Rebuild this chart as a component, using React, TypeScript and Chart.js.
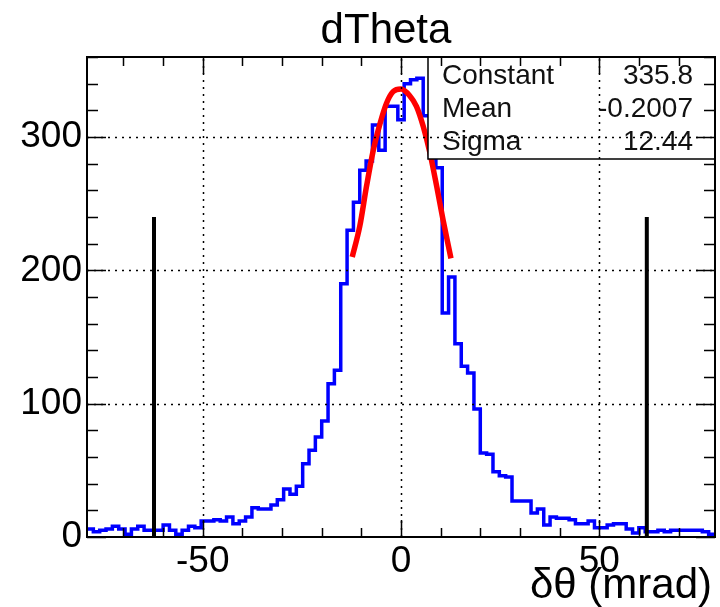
import React, { useEffect, useRef } from "react";
import { Chart, registerables } from "chart.js";

Chart.register(...registerables);

const FONT = "'Liberation Sans', Arial, Helvetica, sans-serif";

const TITLE = "dTheta";
const X_TITLE = "δθ (mrad)";

const X_MIN = -79.2;
const X_MAX = 79.2;
const Y_MIN = 0;
const Y_MAX = 360;

const BIN_LOW = -79.2;
const BIN_WIDTH = 1.6;
const COUNTS = [
  6, 4, 5, 6, 8, 6, 2, 6, 8, 5,
  5, 5, 9, 5, 2, 5, 8, 7, 12, 12,
  13, 12, 15, 10, 12, 15, 22, 21, 21, 24,
  28, 36, 32, 38, 55, 65, 75, 87, 115, 125,
  190, 230, 251, 275, 282, 309, 290, 323, 323, 313,
  340, 343, 344, 316, 285, 277, 168, 195, 145, 128,
  123, 96, 63, 62, 49, 46, 45, 27, 27, 27,
  18, 21, 9, 15, 14, 14, 13, 10, 10, 12,
  7, 7, 9, 10, 10, 6, 3, 7, 4, 4,
  5, 4, 5, 5, 5, 5, 5, 4, 2,
];

const FIT_X = [-12.3, -10.4, -8.7, -7.0, -5.3, -3.7, -2.0, 0.0, 2.2, 3.9, 5.6, 7.3, 9.0, 10.6, 12.6];
const FIT_Y = [210, 233, 263, 290, 310, 325, 334, 336, 331, 323, 308, 288, 263, 238, 209];

const CUT_X = [-62.3, 62.0];
const CUT_TOP = 240;

const X_TICKS = [-50, 0, 50];
const Y_TICKS = [0, 100, 200, 300];
const X_MINOR_STEP = 10;
const Y_MINOR_STEP = 20;

const STAT_NAMES = ["Constant", "Mean", "Sigma"];
const STAT_VALUES = ["335.8", "-0.2007", "12.44"];

const rootPlugin = {
  id: "rootStyle",
  afterDatasetsDraw(chart: any) {
    const { ctx, chartArea: a, scales } = chart;
    const xs = scales.x;
    const ys = scales.y;
    ctx.save();

    // stats box (opaque)
    const bx = 428;
    const by = a.top;
    const bw = a.right - bx;
    const bh = 102;
    ctx.fillStyle = "#ffffff";
    ctx.fillRect(bx, by, bw, bh);
    ctx.strokeStyle = "#000";
    ctx.lineWidth = 1.5;
    ctx.strokeRect(bx, by, bw, bh);
    ctx.fillStyle = "#111";
    ctx.font = `28px ${FONT}`;
    ctx.textBaseline = "middle";
    STAT_NAMES.forEach((n, i) => {
      const yy = by + 19 + i * 33;
      ctx.textAlign = "left";
      ctx.fillText(n, bx + 14, yy);
      ctx.textAlign = "right";
      ctx.fillText(STAT_VALUES[i], a.right - 22, yy);
    });

    // dotted grid
    ctx.strokeStyle = "#000";
    ctx.lineWidth = 1.5;
    ctx.setLineDash([2, 5]);
    X_TICKS.forEach((v) => {
      const px = Math.round(xs.getPixelForValue(v)) + 0.5;
      ctx.beginPath();
      ctx.moveTo(px, a.bottom);
      ctx.lineTo(px, a.top);
      ctx.stroke();
    });
    Y_TICKS.forEach((v) => {
      if (v === Y_MIN) return;
      const py = Math.round(ys.getPixelForValue(v)) + 0.5;
      ctx.beginPath();
      ctx.moveTo(a.left, py);
      ctx.lineTo(a.right, py);
      ctx.stroke();
    });
    ctx.setLineDash([]);

    // tick marks (inward, all four sides)
    ctx.lineWidth = 1.5;
    for (let v = Math.ceil(X_MIN / X_MINOR_STEP) * X_MINOR_STEP; v <= X_MAX; v += X_MINOR_STEP) {
      const major = X_TICKS.includes(v);
      const len = major ? 17 : 9;
      const px = Math.round(xs.getPixelForValue(v)) + 0.5;
      ctx.beginPath();
      ctx.moveTo(px, a.bottom);
      ctx.lineTo(px, a.bottom - len);
      ctx.moveTo(px, a.top);
      ctx.lineTo(px, a.top + len);
      ctx.stroke();
    }
    for (let v = Y_MIN; v <= Y_MAX; v += Y_MINOR_STEP) {
      const major = Y_TICKS.includes(v);
      const len = major ? 19 : 11;
      const py = Math.round(ys.getPixelForValue(v)) + 0.5;
      ctx.beginPath();
      ctx.moveTo(a.left, py);
      ctx.lineTo(a.left + len, py);
      ctx.moveTo(a.right, py);
      ctx.lineTo(a.right - len, py);
      ctx.stroke();
    }

    // frame
    ctx.lineWidth = 2;
    ctx.strokeRect(a.left, a.top, a.right - a.left, a.bottom - a.top);

    // title
    ctx.fillStyle = "#000";
    ctx.font = `42px ${FONT}`;
    ctx.textAlign = "center";
    ctx.textBaseline = "alphabetic";
    ctx.fillText(TITLE, 386, 43);

    // x title
    ctx.font = `42px ${FONT}`;
    ctx.textAlign = "right";
    ctx.fillText(X_TITLE, a.right - 3, 598);

    ctx.restore();
  },
};

export default function App() {
  const ref = useRef<HTMLCanvasElement | null>(null);

  useEffect(() => {
    document.body.style.margin = "0";
    const canvas = ref.current;
    if (!canvas) return;

    // one point per bin lower edge, plus the upper edge of the last bin
    const histPoints = COUNTS.map((c, i) => ({ x: BIN_LOW + i * BIN_WIDTH, y: c }));
    histPoints.push({ x: BIN_LOW + COUNTS.length * BIN_WIDTH, y: COUNTS[COUNTS.length - 1] });

    const fitPoints = FIT_X.map((x, i) => ({ x, y: FIT_Y[i] }));

    const cutSets = CUT_X.map((cx) => ({
      data: [
        { x: cx, y: 0 },
        { x: cx, y: CUT_TOP },
      ],
      borderColor: "#000000",
      borderWidth: 4,
      pointRadius: 0,
      fill: false,
    }));

    const chart = new Chart(canvas, {
      type: "line",
      data: {
        datasets: [
          {
            data: fitPoints,
            borderColor: "#ff0000",
            borderWidth: 5.5,
            pointRadius: 0,
            fill: false,
            cubicInterpolationMode: "monotone",
          } as any,
          ...cutSets,
          {
            data: histPoints,
            borderColor: "#0000ff",
            borderWidth: 3.5,
            pointRadius: 0,
            fill: false,
            stepped: "before",
          } as any,
        ],
      },
      options: {
        animation: false,
        responsive: false,
        maintainAspectRatio: false,
        devicePixelRatio: 1,
        layout: { padding: { top: 57, right: 5, left: 0, bottom: 0 } },
        plugins: {
          legend: { display: false },
          tooltip: { enabled: false },
          title: { display: false },
        },
        scales: {
          x: {
            type: "linear",
            min: X_MIN,
            max: X_MAX,
            afterBuildTicks: (s: any) => {
              s.ticks = X_TICKS.map((v) => ({ value: v }));
            },
            afterFit: (s: any) => {
              s.height = 70;
            },
            ticks: {
              color: "#000",
              font: { family: FONT, size: 37 },
              padding: 3,
              autoSkip: false,
              maxRotation: 0,
              minRotation: 0,
              callback: (v: any) => String(v),
            },
            grid: { display: false, drawTicks: false },
            border: { display: false },
          },
          y: {
            type: "linear",
            min: Y_MIN,
            max: Y_MAX,
            afterBuildTicks: (s: any) => {
              s.ticks = Y_TICKS.map((v) => ({ value: v }));
            },
            afterFit: (s: any) => {
              s.width = 87;
            },
            ticks: {
              color: "#000",
              font: { family: FONT, size: 37 },
              padding: 5,
              autoSkip: false,
              callback: (v: any) => String(v),
            },
            grid: { display: false, drawTicks: false },
            border: { display: false },
          },
        },
      },
      plugins: [rootPlugin],
    });

    return () => chart.destroy();
  }, []);

  return (
    <div style={{ width: 720, height: 607, background: "#fff" }}>
      <canvas ref={ref} width={720} height={607} style={{ display: "block", width: 720, height: 607 }} />
    </div>
  );
}
